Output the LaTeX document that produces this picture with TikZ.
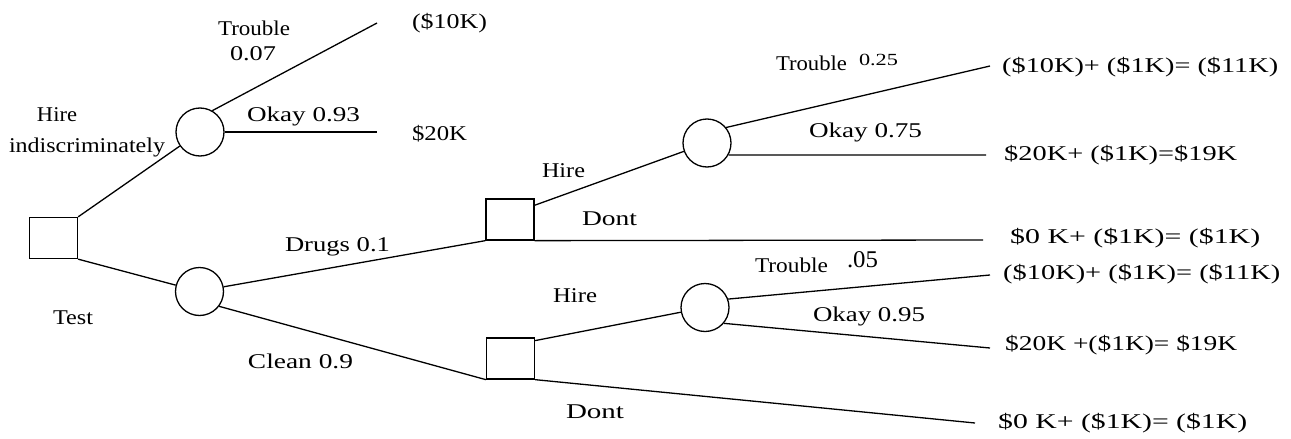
\documentclass[tikz,border=0pt]{standalone}
\usepackage{fontspec}
\usepackage{graphicx}
\setmainfont{Liberation Serif}
\newcommand{\fw}[2]{\resizebox{#1pt}{\height}{#2}}
\begin{document}
\begin{tikzpicture}[x=1pt,y=-1pt,
  every node/.style={font=\fontsize{21}{25}\selectfont, inner sep=0pt},
  dbox/.style={draw, line width=1.3pt, rectangle, minimum width=48pt, minimum height=41pt},
  cnode/.style={draw, line width=1.3pt, circle, minimum size=48pt},
  lbl/.style={anchor=center},
  pay/.style={anchor=west},
  br/.style={line width=1.3pt}]
\useasboundingbox[fill=white] (0,0) rectangle (1291,439);

% decision and chance nodes
\node[dbox] (D0) at (53.5,238) {};
\node[cnode] (C1) at (200,132) {};
\node[cnode] (C2) at (199.5,291.5) {};
\node[dbox] (D1) at (510,219.5) {};
\node[cnode] (C3) at (707,143) {};
\node[dbox] (D2) at (510.5,358.5) {};
\node[cnode] (C4) at (705,307.5) {};

% free ends
\coordinate (e1) at (377,23);
\coordinate (e2) at (377,132);
\coordinate (e3) at (990,66);
\coordinate (e4) at (986,155);
\coordinate (e5) at (983,240);
\coordinate (e6) at (990,275);
\coordinate (e7) at (990,348);
\coordinate (e8) at (975,423);

% branches
\draw[br] (D0.north east) -- (C1);
\draw[br] (D0.south east) -- (C2);
\draw[br] (C1.60) -- (e1);
\draw[br] (C1.east) -- (e2);
\draw[br] (C2.11) -- (D1.south west);
\draw[br] (C2.-37) -- (D2.south west);
\draw[br] (D1.30) -- (C3);
\draw[br] (D1.south east) -- (e5);
\draw[br] (C3.39) -- (e3);
\draw[br] (C3.-29) -- (e4);
\draw[br] (D2.36) -- (C4);
\draw[br] (D2.south east) -- (e8);
\draw[br] (C4.20) -- (e6);
\draw[br] (C4.-40) -- (e7);

% labels
\node[lbl] (l1) at (254,28) {\fw{72}{Trouble}};
\node[lbl] (l2) at (253,54) {\fw{46}{0.07}};
\node[lbl] (l3) at (57,115) {\fw{40}{Hire}};
\node[lbl] (l4) at (87,147) {\fw{156}{indiscriminately}};
\node[lbl] (l5) at (303.5,116) {\fw{113}{Okay 0.93}};
\node[lbl] (l6) at (449.5,23) {\fw{75}{(\$10K)}};
\node[lbl] (l7) at (439.5,134) {\fw{55}{\$20K}};
\node[lbl] (l8) at (73,318) {\fw{40}{Test}};
\node[lbl] (l9) at (337.5,247) {\fw{105}{Drugs 0.1}};
\node[lbl] (l10) at (300.5,361) {\fw{105}{Clean 0.9}};
\node[lbl] (l11) at (563.5,171) {\fw{43}{Hire}};
\node[lbl] (l12) at (609.5,218.5) {\fw{55}{Dont}};
\node[lbl] (l13) at (811.5,63) {\fw{71}{Trouble}};
\node[lbl,font=\fontsize{17}{20}\selectfont] (l14) at (878.5,60) {\fw{39}{0.25}};
\node[lbl] (l15) at (865.5,132) {\fw{113}{Okay 0.75}};
\node[lbl] (l16) at (791.5,265) {\fw{73}{Trouble}};
\node[lbl,font=\fontsize{24}{28}\selectfont] (l17) at (862.5,260) {\fw{31}{.05}};
\node[lbl] (l18) at (575,296) {\fw{44}{Hire}};
\node[lbl] (l19) at (869,316.5) {\fw{112}{Okay 0.95}};
\node[lbl] (l20) at (595,412) {\fw{58}{Dont}};

% payoffs
\node[pay] (p1) at (1002,67) {\fw{276}{(\$10K)+ (\$1K)= (\$11K)}};
\node[pay] (p2) at (1004,155) {\fw{233}{\$20K+ (\$1K)=\$19K}};
\node[pay] (p3) at (1010,238) {\fw{250}{\$0 K+ (\$1K)= (\$1K)}};
\node[pay] (p4) at (1003,274) {\fw{277}{(\$10K)+ (\$1K)= (\$11K)}};
\node[pay] (p5) at (1005,345) {\fw{232}{\$20K +(\$1K)= \$19K}};
\node[pay] (p6) at (998,423) {\fw{249}{\$0 K+ (\$1K)= (\$1K)}};
\end{tikzpicture}
\end{document}
